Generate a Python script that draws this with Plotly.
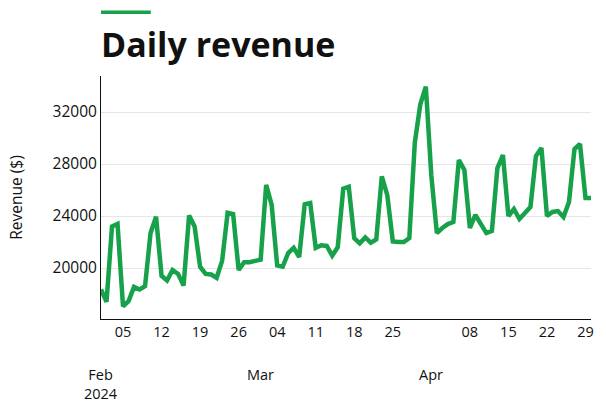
import pandas as pd
import plotly.graph_objects as go

start_date = "2024-02-01"
revenue = [
    18350, 17400, 23200, 23400, 17050, 17450, 18550, 18350, 18600, 22700,
    23950, 19400, 19050, 19850, 19550, 18650, 24050, 23200, 20100, 19550,
    19500, 19250, 20550, 24250, 24150, 19850, 20450, 20450, 20550, 20650,
    26400, 24850, 20200, 20100, 21150, 21550, 20850, 24900, 25000, 21550,
    21750, 21700, 20950, 21600, 26100, 26250, 22300, 21900, 22350, 21950,
    22200, 27050, 25600, 22050, 22000, 22000, 22300, 29650, 32600, 33950,
    27100, 22690, 23080, 23380, 23540, 28310, 27540, 23080, 24080, 23380,
    22690, 22850, 27690, 28690, 24000, 24540, 23770, 24230, 24690, 28620,
    29230, 24000, 24310, 24380, 23920, 25080, 29150, 29540, 25380, 25380,
]
dates = pd.date_range(start_date, periods=len(revenue), freq="D")
week_ticks = [d for d in pd.date_range("2024-02-05", "2024-04-29", freq="7D")
              if d != pd.Timestamp("2024-04-01")]
month_starts = ["2024-02-01", "2024-03-01", "2024-04-01"]
month_labels = ["Feb<br>2024", "Mar", "Apr"]
y_ticks = [20000, 24000, 28000, 32000]

GREEN = "#17a14a"
FONT = "'Open Sans', Lato, sans-serif"

fig = go.Figure()
fig.add_trace(go.Scatter(
    x=dates, y=revenue, mode="lines",
    line=dict(color=GREEN, width=4.5),
    hoverinfo="skip",
))

for d, lab in zip(month_starts, month_labels):
    fig.add_annotation(
        x=d, xref="x", y=-0.18, yref="paper", text=lab, showarrow=False,
        xanchor="center", yanchor="top", font=dict(size=14.5, color="#111", family=FONT),
        align="center",
    )

fig.add_shape(type="rect", xref="paper", yref="paper",
              x0=0, x1=50 / 492, y0=1 + 62 / 243, y1=1 + 65.5 / 243,
              fillcolor=GREEN, line=dict(width=0))

fig.update_layout(
    width=606, height=410,
    margin=dict(l=101, r=13, t=76, b=91),
    paper_bgcolor="white", plot_bgcolor="white",
    showlegend=False,
    font=dict(family=FONT, size=14.5, color="#111"),
    title=dict(text="<b>Daily revenue</b>", x=101 / 606, xanchor="left", xref="container",
               y=1 - 45 / 410, yref="container", yanchor="middle",
               font=dict(size=34, color="#111", family=FONT)),
    xaxis=dict(
        range=[dates[0], dates[-1]], type="date",
        tickvals=week_ticks, tickformat="%d",
        showgrid=False, showline=True, linecolor="#111", linewidth=1,
        ticks="", tickfont=dict(size=14.5, color="#111"), zeroline=False,
    ),
    yaxis=dict(
        range=[16080, 34770], tickvals=y_ticks, tickformat="d",
        showgrid=True, gridcolor="#e6e6e6", gridwidth=1,
        showline=True, linecolor="#111", linewidth=1, ticks="",
        tickfont=dict(size=15.5, color="#111"), zeroline=False,
        title=dict(text="Revenue ($)", font=dict(size=15.5, color="#111"), standoff=26),
    ),
)

fig.write_html("out.html")
